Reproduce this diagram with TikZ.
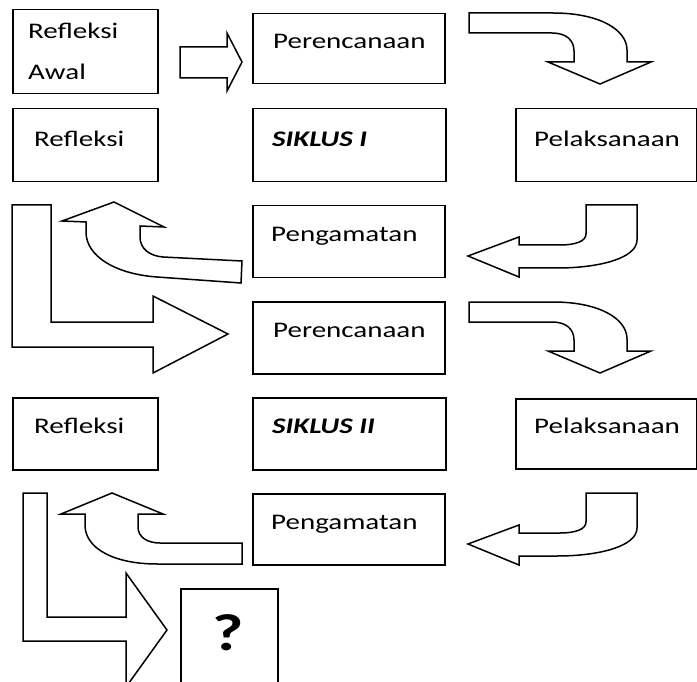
\documentclass[tikz,border=0pt]{standalone}
\usepackage{fontspec}
\setmainfont{Carlito}[FakeStretch=1.3]
\begin{document}
\begin{tikzpicture}[x=1pt,y=-1pt,
  box/.style={draw=black,line width=1.5pt,fill=white,inner sep=0pt,anchor=north west},
  txt/.style={anchor=base west,inner sep=0pt,font=\fontsize{22.3}{26}\selectfont},
  blk/.style={draw=black,line width=1.5pt,fill=white,line join=miter}]
\useasboundingbox (0,0) rectangle (697,682);
\clip (0,0) rectangle (697,682);
\fill[white] (0,0) rectangle (697,682);
% boxes
\node[box,minimum width=145pt,minimum height=84pt] (ra) at (12,9) {};
\node[box,minimum width=192pt,minimum height=70pt] (p1) at (252,13) {};
\node[box,minimum width=145pt,minimum height=73pt] (r1) at (12,108) {};
\node[box,minimum width=193pt,minimum height=73pt] (s1) at (252,108) {};
\node[box,minimum width=181pt,minimum height=73pt] (l1) at (515,108) {};
\node[box,minimum width=192pt,minimum height=72pt] (g1) at (252,205) {};
\node[box,minimum width=192pt,minimum height=72pt] (p2) at (252,301) {};
\node[box,minimum width=145pt,minimum height=72pt] (r2) at (12,397) {};
\node[box,minimum width=193pt,minimum height=72pt] (s2) at (252,397) {};
\node[box,minimum width=181pt,minimum height=70pt] (l2) at (515,398) {};
\node[box,minimum width=192pt,minimum height=71pt] (g2) at (252,493) {};
\node[box,minimum width=97pt,minimum height=110pt] (q) at (180,588) {};
% texts
\node[txt] (t1) at (28,39) {Refleksi};
\node[txt] (t2) at (28,80) {Awal};
\node[txt] (t3) at (273,49) {Perencanaan};
\node[txt] (t4) at (34,147) {Refleksi};
\node[txt] (t5) at (272,147) {\bfseries\itshape SIKLUS I};
\node[txt] (t6) at (534,147) {Pelaksanaan};
\node[txt] (t7) at (271,242) {Pengamatan};
\node[txt] (t8) at (273,337) {Perencanaan};
\node[txt] (t9) at (34,433) {Refleksi};
\node[txt] (t10) at (272,433) {\bfseries\itshape SIKLUS II};
\node[txt] (t11) at (534,433) {Pelaksanaan};
\node[txt] (t12) at (271,529) {Pengamatan};
\node[anchor=base,inner sep=0pt,font=\fontsize{52}{60}\selectfont\bfseries] (tq) at (228,650) {?};
% small right arrow
\draw[blk] (180,47) -- (227,47) -- (227,33) -- (242,62) -- (227,91) -- (227,78) -- (180,78) -- cycle;
% curved down arrows (right)
\foreach \dy in {0,289}{
\begin{scope}[shift={(0,\dy)}]
\draw[blk] (469,13) -- (553,13) .. controls (600,13) and (627,30) .. (627,50) -- (627,62) -- (651,62) -- (600,84) -- (548,62) -- (574,62) -- (574,51) .. controls (574,40) and (566,33) .. (552,33) -- (469,33) -- cycle;
\end{scope}}
% hook arrows pointing left (Pengamatan)
\foreach \dy in {0,288}{
\begin{scope}[shift={(0,\dy)}]
\draw[blk] (637,205) -- (637,240) .. controls (637,258) and (600,268) .. (557,268) -- (519,268) -- (519,277) -- (468,256) -- (519,237) -- (519,245) -- (560,245) .. controls (576,245) and (586,241) .. (586,234) -- (586,205) -- cycle;
\end{scope}}
% curved up arrow 1 (slightly tilted)
\draw[blk] (62,221) -- (114,202) -- (164,227) -- (140,226) -- (140,237) .. controls (140,249) and (150,256) .. (163,257) -- (242,261) -- (241,283) -- (157,277) .. controls (115,274) and (86,256) .. (86,232) -- (86,222) -- cycle;
% curved up arrow 2
\draw[blk] (61,514) -- (112,493) -- (163,514) -- (138,514) -- (138,527) .. controls (138,537) and (147,543) .. (160,543) -- (242,543) -- (242,564) -- (157,564) .. controls (115,564) and (85,549) .. (85,525) -- (85,514) -- cycle;
% big L arrows
\draw[blk] (12,205) -- (51,205) -- (51,322) -- (153,322) -- (153,296) -- (228,334) -- (153,373) -- (153,347) -- (12,347) -- cycle;
\draw[blk] (23,493) -- (47,493) -- (47,617) -- (126,617) -- (126,573) -- (167,630) -- (126,687) -- (126,641) -- (23,641) -- cycle;
\end{tikzpicture}
\end{document}
